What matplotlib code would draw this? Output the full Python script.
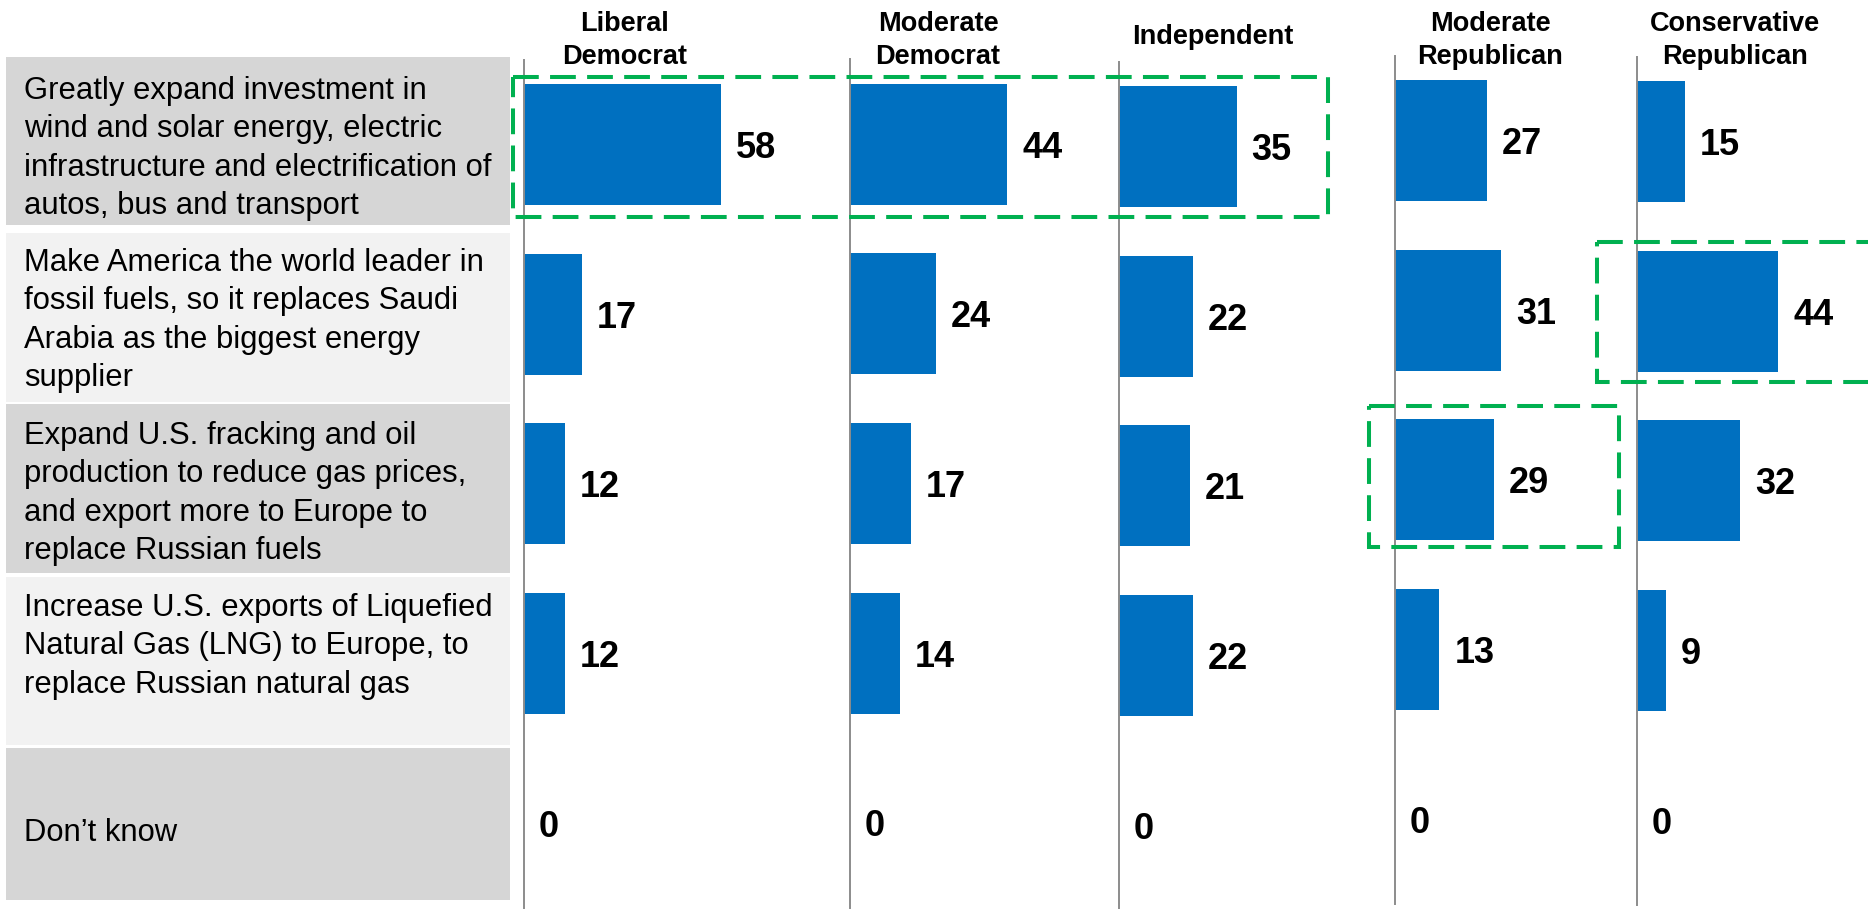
import matplotlib

matplotlib.use("Agg")
import matplotlib.pyplot as plt
from matplotlib.patches import Rectangle

plt.rcParams["font.family"] = ["Liberation Sans", "DejaVu Sans"]

# --- data -----------------------------------------------------------------
statements = [
    "Greatly expand investment in\nwind and solar energy, electric\n"
    "infrastructure and electrification of\nautos, bus and transport",
    "Make America the world leader in\nfossil fuels, so it replaces Saudi\n"
    "Arabia as the biggest energy\nsupplier",
    "Expand U.S. fracking and oil\nproduction to reduce gas prices,\n"
    "and export more to Europe to\nreplace Russian fuels",
    "Increase U.S. exports of Liquefied\nNatural Gas (LNG) to Europe, to\n"
    "replace Russian natural gas",
    "Don\u2019t know",
]
groups = [
    "Liberal\nDemocrat",
    "Moderate\nDemocrat",
    "Independent",
    "Moderate\nRepublican",
    "Conservative\nRepublican",
]
liberal_dem = [58, 17, 12, 12, 0]
moderate_dem = [44, 24, 17, 14, 0]
independent = [35, 22, 21, 22, 0]
moderate_rep = [27, 31, 29, 13, 0]
conservative_rep = [15, 44, 32, 9, 0]
series = [liberal_dem, moderate_dem, independent, moderate_rep, conservative_rep]

# --- layout (pixels, origin top-left) --------------------------------------
W, H, DPI = 1868, 909, 100
BAR_BLUE = "#0070c0"
GREEN = "#00b050"
AXIS_GRAY = "#8c8c8c"

panel_x = [524, 850, 1119, 1395, 1637]
panel_row1 = [144.5, 144, 146.5, 140.5, 141.5]
px_per_pct = [3.40, 3.57, 3.36, 3.41, 3.21]
header_dx = [101, 88, 94, 95, 98]
header_top = [11, 11, 24, 11, 11]
ROW_STEP = 169.7
BAR_H = 121 / ROW_STEP
PANEL_W = 231

box_top = [57, 233, 404, 577, 748]
box_bot = [225, 402, 573, 745, 900]
box_fill = ["#d6d6d6", "#f2f2f2", "#d6d6d6", "#f2f2f2", "#d6d6d6"]
text_pad = [19, 15, 17, 16]
BOX_X0, BOX_X1 = 6, 510

# highlight frames: x0, y0, x1, y1
highlights = [(513, 77, 1328, 217), (1597, 242, 1895, 382), (1369, 406, 1619, 547)]

fig = plt.figure(figsize=(W / DPI, H / DPI), dpi=DPI)

for k, (vals, label) in enumerate(zip(series, groups)):
    top = panel_row1[k] - 0.5 * ROW_STEP
    bot = panel_row1[k] + 4.5 * ROW_STEP
    ax = fig.add_axes([panel_x[k] / W, 1 - bot / H, PANEL_W / W, (bot - top) / H])
    ax.barh(range(len(vals)), vals, height=BAR_H, color=BAR_BLUE)
    for i, v in enumerate(vals):
        ax.annotate(str(v), (v, i), xytext=(15, 0), textcoords="offset pixels",
                    va="center_baseline", ha="left", fontsize=26, fontweight="bold")
    ax.set_xlim(0, PANEL_W / px_per_pct[k])
    ax.set_ylim(4.5, -0.5)
    ax.set_xticks([])
    ax.set_yticks([])
    for side in ("top", "right", "bottom"):
        ax.spines[side].set_visible(False)
    ax.spines["left"].set_color(AXIS_GRAY)
    ax.spines["left"].set_linewidth(1.4)
    ax.patch.set_alpha(0)
    fig.text((panel_x[k] + header_dx[k]) / W, 1 - header_top[k] / H, label,
             ha="center", va="top", multialignment="center",
             fontsize=19.5, fontweight="bold", linespacing=1.37)

# overlay in pixel coordinates for the statement cells and highlight frames
ov = fig.add_axes([0, 0, 1, 1], zorder=10)
ov.set_xlim(0, W)
ov.set_ylim(H, 0)
ov.axis("off")
ov.patch.set_alpha(0)

for i, text in enumerate(statements):
    ov.add_patch(Rectangle((BOX_X0, box_top[i]), BOX_X1 - BOX_X0,
                           box_bot[i] - box_top[i], color=box_fill[i], lw=0))
    if "\n" in text:
        ov.text(24, box_top[i] + text_pad[i], text, ha="left", va="top",
                fontsize=22.3, linespacing=1.36)
    else:
        ov.text(24, (box_top[i] + box_bot[i]) / 2 + 9, text, ha="left",
                va="center", fontsize=22.3)

for x0, y0, x1, y1 in highlights:
    ov.add_patch(Rectangle((x0, y0), x1 - x0, y1 - y0, fill=False,
                           edgecolor=GREEN, lw=2.9, linestyle=(0, (6.4, 2.8)),
                           clip_on=False))

fig.savefig("out.png", dpi=DPI)
plt.close(fig)
